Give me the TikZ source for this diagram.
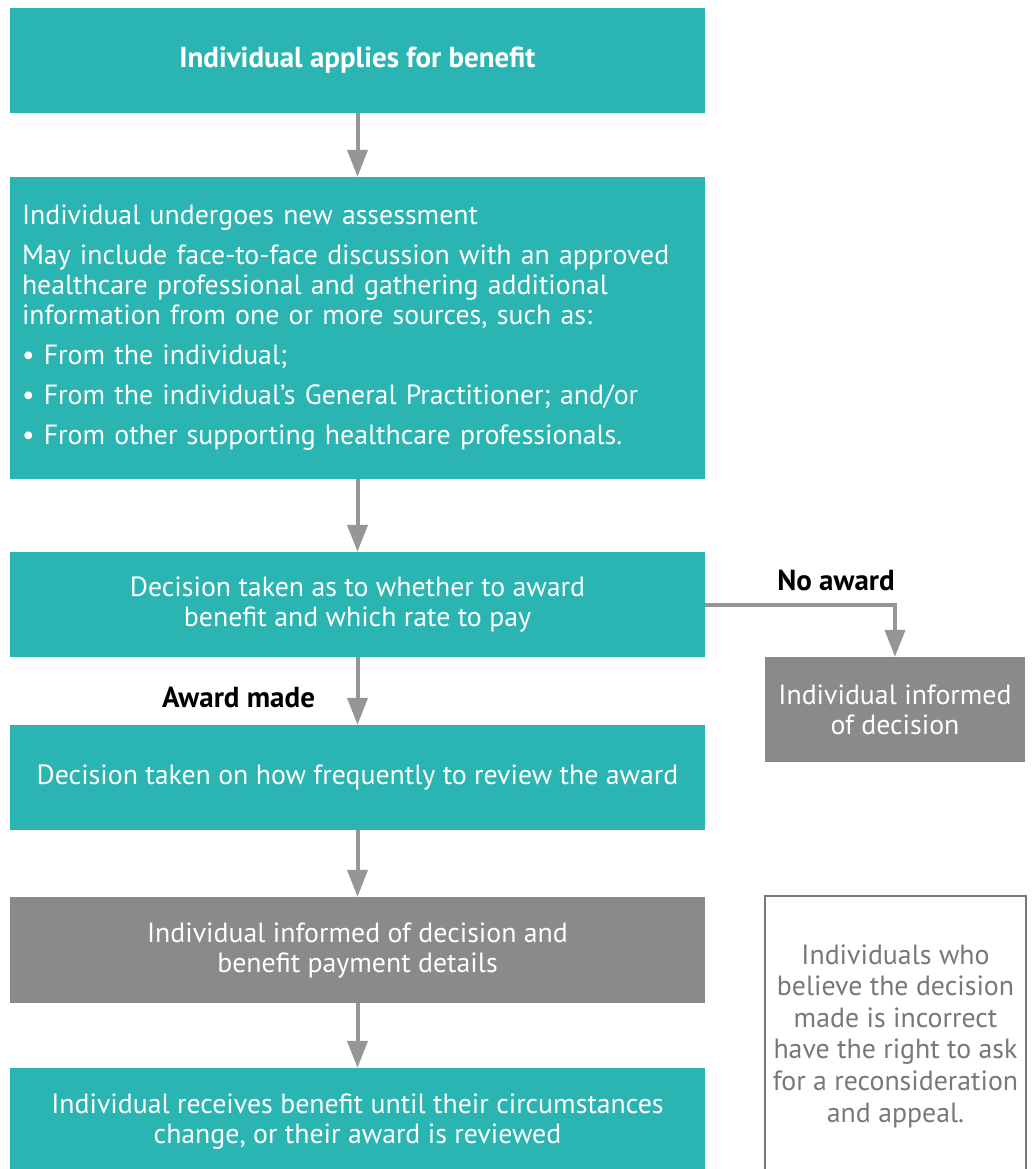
\documentclass[tikz,border=0pt]{standalone}
\usepackage{fontspec}
\setmainfont{PT Sans}
\usetikzlibrary{arrows.meta}

\definecolor{boxteal}{RGB}{43,181,178}
\definecolor{boxgrey}{RGB}{138,138,138}
\definecolor{arrowgrey}{RGB}{150,150,150}
\definecolor{notegrey}{RGB}{120,120,120}

\tikzset{
  tealbox/.style={fill=boxteal, text=white, inner sep=0pt, minimum width=695pt,
    align=center, font=\fontsize{27.8}{30}\selectfont},
  greybox/.style={tealbox, fill=boxgrey},
  flow/.style={draw=arrowgrey, line width=4pt,
    -{Triangle[width=20pt,length=27pt]}},
  branch/.style={font=\fontsize{29}{30}\selectfont\bfseries, text=black}
}

\begin{document}
\begin{tikzpicture}[x=1pt,y=-1pt]
\useasboundingbox[fill=white] (0,0) rectangle (1031,1169);

% main column
\node[tealbox, minimum height=105pt, font=\fontsize{29}{30}\selectfont\bfseries] (apply) at (357.5,60.5) {Individual applies for benefit};
\node[tealbox, minimum height=302pt, text width=671pt, align=left] (assess) at (357.5,328) {Individual undergoes new assessment\\[10pt]
May include face-to-face discussion with an approved\\
healthcare professional and gathering additional\\
information from one or more sources, such as:\\[10pt]
\textbullet\ From the individual;\\[10pt]
\textbullet\ From the individual’s General Practitioner; and/or\\[10pt]
\textbullet\ From other supporting healthcare professionals.};
\node[tealbox, minimum height=105pt] (decide) at (357.5,604.5) {Decision taken as to whether to award\\benefit and which rate to pay};
\node[tealbox, minimum height=105pt] (review) at (357.5,777.5) {Decision taken on how frequently to review the award};
\node[greybox, minimum height=106pt] (inform) at (357.5,950) {Individual informed of decision and\\benefit payment details};
\node[tealbox, minimum height=108pt] (receive) at (357.5,1122) {Individual receives benefit until their circumstances\\change, or their award is reviewed};

% right column
\node[greybox, minimum width=260pt, minimum height=105pt] (noaward) at (895,709.5) {Individual informed\\of decision};
\node[draw=notegrey, line width=1.5pt, fill=white, text=notegrey, inner sep=0pt,
  minimum width=261pt, minimum height=280pt, align=center,
  font=\fontsize{27.8}{31.6}\selectfont] (note) at (895.5,1036) {Individuals who\\believe the decision\\made is incorrect\\have the right to ask\\for a reconsideration\\and appeal.};

% connectors
\draw[flow] (apply) -- (assess);
\draw[flow] (assess) -- (decide);
\draw[flow] (decide) -- (review);
\draw[flow] (review) -- (inform);
\draw[flow] (inform) -- (receive);
\draw[flow] (decide.east) -| (noaward.north);

% branch labels
\node[branch] (made) at (238.5,697) {Award made};
\node[branch] (none) at (836,580) {No award};
\end{tikzpicture}
\end{document}
